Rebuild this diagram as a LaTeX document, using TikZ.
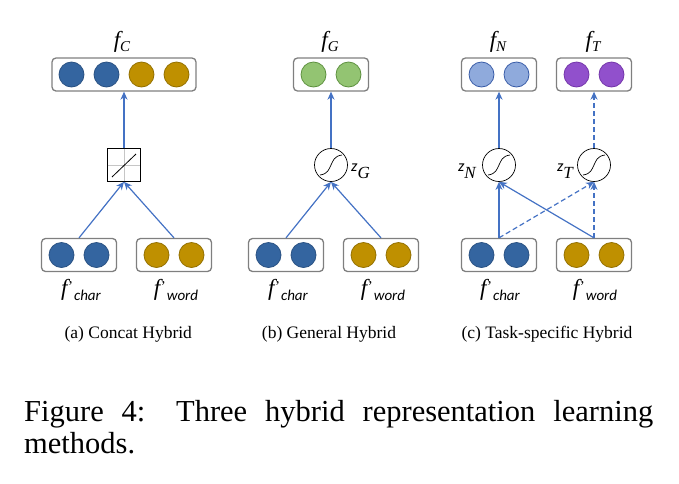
\documentclass[tikz,border=0pt]{standalone}
\usepackage{fontspec}
\setmainfont{Liberation Serif}
\newfontfamily\subsf{Carlito}
\usetikzlibrary{arrows.meta,calc,positioning,shapes}

\definecolor{arrowblue}{HTML}{4472C4}
\definecolor{boxgray}{HTML}{7F7F7F}
\definecolor{fillblue}{HTML}{3465A0}
\definecolor{lineblue}{HTML}{2A5283}
\definecolor{fillgold}{HTML}{BF9000}
\definecolor{linegold}{HTML}{937000}
\definecolor{fillgreen}{HTML}{93C472}
\definecolor{linegreen}{HTML}{5E9140}
\definecolor{fillsky}{HTML}{8FAADC}
\definecolor{linesky}{HTML}{3A5DA8}
\definecolor{fillviolet}{HTML}{9150CC}
\definecolor{lineviolet}{HTML}{7436AA}

\newcommand{\ftop}[1]{{\itshape f}\raisebox{-4.4pt}{\fontsize{15}{15}\selectfont\itshape #1}}
\newcommand{\fbot}[1]{{\itshape f}\kern0.5pt\raisebox{4.5pt}{\fontsize{15}{15}\selectfont '}\kern1pt\raisebox{-4.4pt}{\fontsize{15}{15}\selectfont\subsf\itshape #1}}
\newcommand{\zlab}[1]{{\fontsize{16}{16}\selectfont\subsf\itshape z}\raisebox{-6.6pt}{\fontsize{17}{17}\selectfont\itshape #1}}

\begin{document}
\begin{tikzpicture}[x=1pt,y=-1pt,every node/.style={font=\fontsize{23}{23}\selectfont},
    vec/.style={draw=boxgray,line width=1.3pt,rounded corners=4pt,minimum height=33pt,inner sep=0pt},
    unit/.style={circle,minimum size=25pt,inner sep=0pt,line width=0.8pt},
    sig/.style={circle,draw,fill=white,minimum size=33pt,inner sep=0pt,line width=0.7pt},
    link/.style={draw=arrowblue,line width=1.2pt,-{Stealth[length=8pt,width=7pt,inset=2.5pt]}},
    lbl/.style={anchor=base,inner sep=0pt}]

    \useasboundingbox (0,0) rectangle (679,483);

    \node[vec,minimum width=144pt] (TOPA) at (124,74.5) {};
    \foreach \x/\c in {-52.5/blue,-17.5/blue,17.5/gold,52.5/gold}
      \node[unit,fill=fill\c,draw=line\c] at (124+\x,74.5) {};

    \foreach \n/\x/\y/\c in {TOPB/331/74.5/green,TOPN/499/74.5/sky,TOPT/594/74.5/violet,
        CHARA/79/255/blue,WORDA/174/255/gold,CHARB/286/255/blue,WORDB/381/255/gold,
        CHARC/499/255/blue,WORDC/594/255/gold} {
      \node[vec,minimum width=75pt] (\n) at (\x,\y) {};
      \node[unit,fill=fill\c,draw=line\c] at (\x-17.5,\y) {};
      \node[unit,fill=fill\c,draw=line\c] at (\x+17.5,\y) {};
    }

    \node[draw,fill=white,minimum size=33pt,inner sep=0pt,line width=0.7pt] (LINA) at (124,165) {};
    \draw[gray!45,line width=0.6pt] ([yshift=-0.5pt]LINA.north) -- ([yshift=0.5pt]LINA.south)
      ([xshift=0.5pt]LINA.west) -- ([xshift=-0.5pt]LINA.east);
    \draw[line width=0.8pt] ($(LINA.center)+(-12,12)$) -- ($(LINA.center)+(12,-11)$);

    \foreach \n/\x in {SIGB/331,SIGN/499,SIGT/594} {
      \node[sig] (\n) at (\x,165) {};
      \draw[line width=0.7pt] (\n.center) ++(-11,10) .. controls +(8,-1) and +(-2,4) .. ++(11,-10)
        .. controls +(2,-4) and +(-8,1) .. ++(11,-10);
    }

    \node[lbl] (FC) at (122,47.3) {\ftop{C}};
    \node[lbl] (FG) at (330,47.3) {\ftop{G}};
    \node[lbl] (FN) at (498,47.3) {\ftop{N}};
    \node[lbl] (FT) at (593,47.3) {\ftop{T}};

    \node[anchor=base west,inner sep=0pt] (ZG) at (351,171.7) {\zlab{G}};
    \node[anchor=base east,inner sep=0pt] (ZN) at (476,171.7) {\zlab{N}};
    \node[anchor=base east,inner sep=0pt] (ZT) at (573,171.7) {\zlab{T}};

    \foreach \n/\x/\t in {CHARA/81/char,WORDA/176/word,CHARB/288/char,WORDB/383/word,CHARC/500/char,WORDC/595/word}
      \node[lbl] (L\n) at (\x,295.6) {\fbot{\t}};

    \path[link] (CHARA.north) -- (LINA.south);
    \path[link] (WORDA.north) -- (LINA.south);
    \path[link] (LINA.north) -- (TOPA.south);

    \path[link] (CHARB.north) -- (SIGB.south);
    \path[link] (WORDB.north) -- (SIGB.south);
    \path[link] (SIGB.north) -- (TOPB.south);

    \path[link] (CHARC.north) -- (SIGN.south);
    \path[link] (WORDC.north) -- (SIGN.south);
    \path[link,dash pattern=on 5pt off 3pt] (CHARC.north) -- (SIGT.south);
    \path[link,dash pattern=on 5pt off 3pt] (WORDC.north) -- (SIGT.south);
    \path[link] (SIGN.north) -- (TOPN.south);
    \path[link,dash pattern=on 5pt off 3pt] (SIGT.north) -- (TOPT.south);

    \node[lbl,font=\fontsize{17.5}{17.5}\selectfont] (CAPA) at (128.3,338.3) {(a) Concat Hybrid};
    \node[lbl,font=\fontsize{17.5}{17.5}\selectfont] (CAPB) at (329,338.3) {(b) General Hybrid};
    \node[lbl,font=\fontsize{17.5}{17.5}\selectfont] (CAPC) at (547,338.3) {(c) Task-specific Hybrid};

    \node[anchor=base west,inner sep=0pt,text width=629pt,align=justify,
      font=\fontsize{30.5}{31.6}\selectfont] (FIG) at (24,421.7)
      {\tolerance=10000 Figure 4: Three hybrid representation learning\linebreak methods.};
  \end{tikzpicture}
\end{document}
